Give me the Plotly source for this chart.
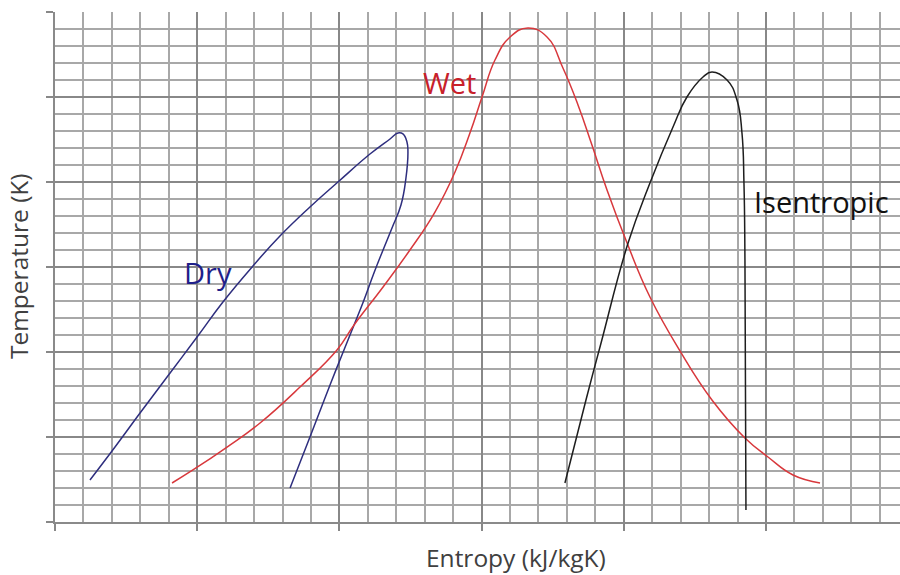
import plotly.graph_objects as go

# Data (entropy in grid units, temperature in grid units)
dry_s = [0.246, 0.422, 0.598, 0.788, 0.999, 1.181, 1.392, 1.582, 1.793, 1.990, 2.215, 2.356, 2.412,
         2.447, 2.475, 2.482, 2.468, 2.433, 2.370, 2.307, 2.243, 2.173, 2.103, 2.018, 1.934, 1.793, 1.653]
dry_t = [0.494, 0.882, 1.282, 1.706, 2.176, 2.588, 3.012, 3.365, 3.706, 4.000, 4.329, 4.506, 4.576,
         4.565, 4.471, 4.353, 4.047, 3.729, 3.459, 3.200, 2.929, 2.612, 2.318, 1.965, 1.612, 1.000, 0.400]

wet_s = [0.823, 0.970, 1.210, 1.442, 1.723, 1.983, 2.103, 2.307, 2.496, 2.672, 2.813, 2.918, 3.003,
         3.094, 3.200, 3.326, 3.460, 3.572, 3.678, 3.776, 3.882, 4.023, 4.184, 4.395, 4.620, 4.852,
         5.014, 5.190, 5.380]
wet_t = [0.459, 0.612, 0.882, 1.165, 1.588, 2.024, 2.318, 2.765, 3.200, 3.647, 4.118, 4.576, 5.000,
         5.435, 5.706, 5.812, 5.706, 5.341, 4.906, 4.435, 3.906, 3.282, 2.647, 2.012, 1.435, 0.988,
         0.765, 0.553, 0.459]

isen_s = [3.586, 3.734, 3.840, 4.030, 4.184, 4.346, 4.444, 4.557, 4.620, 4.726, 4.796, 4.831, 4.845,
          4.852, 4.859]
isen_t = [0.459, 1.435, 2.106, 3.282, 3.988, 4.647, 5.000, 5.235, 5.294, 5.200, 4.965, 4.576, 3.988,
          3.082, 0.141]

labels = ["Dry", "Wet", "Isentropic"]
label_s = [1.076, 2.771, 5.387]
label_t = [2.941, 5.176, 3.776]

x_title = "Entropy (kJ/kgK)"
y_title = "Temperature (K)"

line_colors = ["#2e2e7e", "#d8383c", "#1e1e1e"]
text_colors = ["#1f1f8a", "#c8202a", "#111111"]

fig = go.Figure()
for s, t, c in [(dry_s, dry_t, line_colors[0]), (wet_s, wet_t, line_colors[1]), (isen_s, isen_t, line_colors[2])]:
    fig.add_trace(go.Scatter(x=s, y=t, mode="lines",
                             line=dict(color=c, width=1.5, shape="spline", smoothing=1.3),
                             showlegend=False, hoverinfo="skip"))

for lab, xs, yt, col in zip(labels, label_s, label_t, text_colors):
    fig.add_annotation(x=xs, y=yt, xref="x", yref="y", text=lab, showarrow=False,
                       font=dict(family="Open Sans", size=29, color=col),
                       xanchor="center", yanchor="middle")

fig.add_annotation(x=0.5456, y=-0.069, xref="paper", yref="paper", text=x_title, showarrow=False,
                   font=dict(family="Open Sans", size=24.5, color="#404040"),
                   xanchor="center", yanchor="middle")
fig.add_annotation(x=-0.0425, y=0.502, xref="paper", yref="paper", text=y_title, showarrow=False,
                   textangle=-90,
                   font=dict(family="Open Sans", size=24.5, color="#404040"),
                   xanchor="center", yanchor="middle")

axis_common = dict(
    showticklabels=False, zeroline=False,
    showgrid=True, gridcolor="#888888", gridwidth=2,
    ticks="outside", ticklen=7, tickcolor="#888888", tickwidth=1.6,
    showline=True, linecolor="#8a8a8a", linewidth=1.6,
)
fig.update_xaxes(range=[0, 845 / 142.2], dtick=1, tick0=0,
                 minor=dict(dtick=0.2, showgrid=True, gridcolor="#a8a8a8", gridwidth=1.6, ticks=""),
                 **axis_common)
fig.update_yaxes(range=[0, 6], dtick=1, tick0=0,
                 minor=dict(dtick=0.2, showgrid=True, gridcolor="#a8a8a8", gridwidth=1.6, ticks=""),
                 **axis_common)

fig.update_layout(width=900, height=575, margin=dict(l=55, r=0, t=12, b=53),
                  plot_bgcolor="white", paper_bgcolor="white",
                  font=dict(family="Open Sans"))

fig.write_html("out.html")
